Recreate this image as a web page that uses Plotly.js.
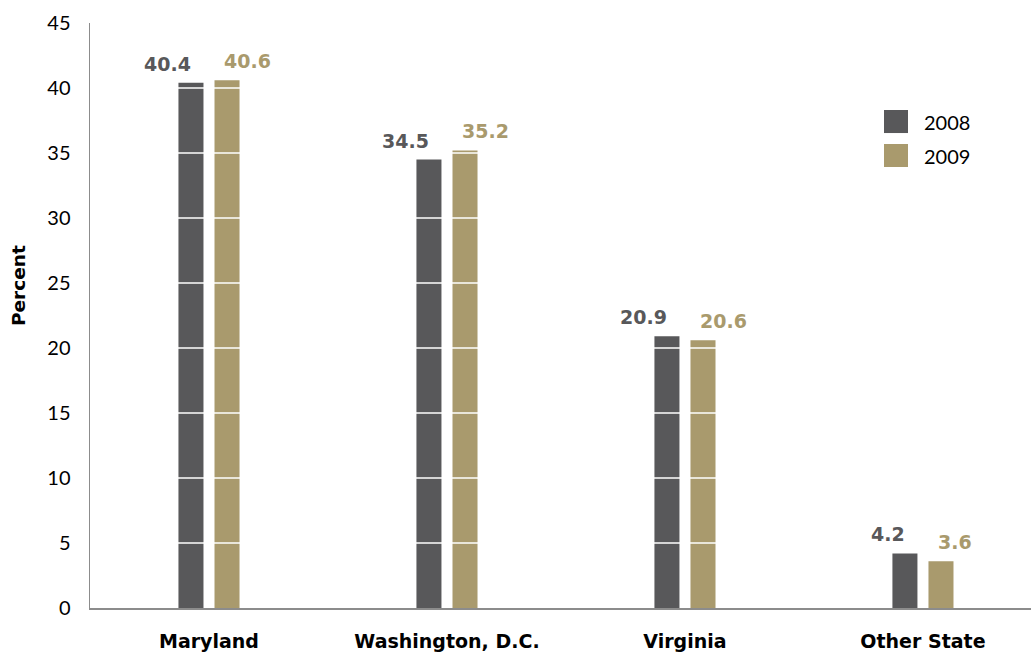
<!DOCTYPE html>
<html>
<head>
<meta charset="utf-8">
<script src="https://cdn.plot.ly/plotly-3.0.1.min.js"></script>
<style>html,body{margin:0;padding:0;background:#fff;}#chart{width:1031px;height:654px;}</style>
</head>
<body>
<div id="chart"></div>
<script>
const categories = ["Maryland", "Washington, D.C.", "Virginia", "Other State"];
const values2008 = [40.4, 34.5, 20.9, 4.2];
const values2009 = [40.6, 35.2, 20.6, 3.6];
const seriesNames = ["2008", "2009"];
const yTicks = [0, 5, 10, 15, 20, 25, 30, 35, 40, 45];

const colors = ["#58585a", "#a99a6d"];
const seriesValues = [values2008, values2009];

const traces = seriesValues.map((vals, i) => ({
  type: "bar",
  name: seriesNames[i],
  x: categories,
  y: vals,
  marker: {color: colors[i]},
  showlegend: false,
  hoverinfo: "x+y+name"
}));

const annotations = [];
seriesValues.forEach((vals, i) => {
  vals.forEach((v, j) => {
    annotations.push({
      x: categories[j], y: v, xref: "x", yref: "y",
      text: v.toFixed(1), showarrow: false,
      xanchor: i === 0 ? "right" : "left",
      yanchor: "bottom",
      xshift: i === 0 ? -16 : 13,
      yshift: 6,
      font: {family: "DejaVu Sans", size: 19, color: colors[i], weight: "bold"}
    });
  });
});

// y-axis title
annotations.push({
  xref: "paper", yref: "paper", x: 0, y: 0.5504, xshift: -72,
  text: "Percent", textangle: -90, showarrow: false,
  xanchor: "center", yanchor: "middle",
  font: {family: "DejaVu Sans", size: 18.5, color: "#000", weight: "bold"}
});

const shapes = [];
// white gridlines drawn over bars
yTicks.forEach(t => {
  if (t === 0) return;
  shapes.push({
    type: "line", xref: "paper", yref: "y", x0: 0, x1: 1, y0: t, y1: t,
    line: {color: "#ffffff", width: 1.3}, layer: "above"
  });
});

// legend (manual, large swatches), drawn after gridlines
const legendY = [0.8316, 0.7735];
seriesNames.forEach((n, i) => {
  shapes.push({
    type: "rect", xref: "paper", yref: "paper",
    x0: 0.8438, x1: 0.8693, y0: legendY[i] - 0.0197, y1: legendY[i] + 0.0197,
    fillcolor: colors[i], line: {width: 0}, layer: "above"
  });
  annotations.push({
    xref: "paper", yref: "paper", x: 0.8842, y: legendY[i],
    text: n, showarrow: false, xanchor: "left", yanchor: "middle",
    font: {family: "Lato", size: 20, color: "#000"}
  });
});

const layout = {
  width: 1031, height: 654,
  margin: {l: 90, r: 0, t: 23, b: 46, pad: 0},
  paper_bgcolor: "#fff", plot_bgcolor: "#fff",
  barmode: "group",
  bargap: 0.697,
  bargroupgap: 0.306,
  showlegend: false,
  xaxis: {
    type: "category",
    range: [-0.5, 3.454],
    showgrid: false, zeroline: false,
    showline: true, linecolor: "#8c8c8c", linewidth: 2,
    ticks: "", ticklabelstandoff: 15,
    tickfont: {family: "DejaVu Sans", size: 19, color: "#000", weight: "bold"}
  },
  yaxis: {
    range: [0, 45],
    tickvals: yTicks, ticktext: yTicks.map(String),
    showgrid: false, zeroline: false,
    showline: true, linecolor: "#8c8c8c", linewidth: 1.5,
    ticks: "", ticklabelstandoff: 14,
    tickfont: {family: "Lato", size: 20, color: "#000"}
  },
  annotations: annotations,
  shapes: shapes
};

Plotly.newPlot("chart", traces, layout, {displayModeBar: false, staticPlot: true});
</script>
</body>
</html>
